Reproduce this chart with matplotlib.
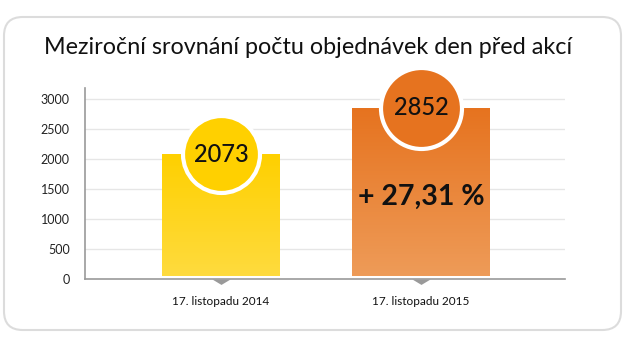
import numpy as np
import matplotlib
matplotlib.use("Agg")
import matplotlib.pyplot as plt
from matplotlib.patches import FancyBboxPatch
from matplotlib.colors import LinearSegmentedColormap

plt.rcParams['font.family'] = ['Lato', 'DejaVu Sans']

# data
kategorie = ['17. listopadu 2014', '17. listopadu 2015']
objednavky = [2073, 2852]
narust = '+ 27,31 %'
titulek = 'Meziroční srovnání počtu objednávek den před akcí'
yticks = [0, 500, 1000, 1500, 2000, 2500, 3000]

fig = plt.figure(figsize=(6.25, 3.5), dpi=100)
fig.patch.set_facecolor('white')

# karta se zaoblenymi rohy
karta = FancyBboxPatch((4 / 625, 1 - 330 / 350), 617 / 625, 313 / 350,
                       boxstyle='round,pad=0,rounding_size=0.03',
                       transform=fig.transFigure, facecolor='white',
                       edgecolor='#dcdcdc', linewidth=1.5, mutation_aspect=625 / 350,
                       zorder=-10)
fig.patches.append(karta)

fig.text(0.493, 1 - 47 / 350, titulek, ha='center', va='center', fontsize=16.8, color='#111111')

ax = fig.add_axes([85 / 625, 71 / 350, 480 / 625, (279 - 88) / 350])
ax.set_facecolor('none')
x = np.arange(len(kategorie))
sirky = [0.59, 0.69]
barvy_top = ['#ffd000', '#e6731f']
barvy_bot = ['#fedb3e', '#ee9b58']
spodek = 45

bars = ax.bar(x, np.array(objednavky) - spodek, bottom=spodek, width=sirky,
              color=barvy_top, zorder=2)
for b, c1, c2 in zip(bars, barvy_top, barvy_bot):
    cmap = LinearSegmentedColormap.from_list('g', [c2, c1])
    grad = np.linspace(0, 1, 100).reshape(-1, 1)
    im = ax.imshow(grad, cmap=cmap, aspect='auto', origin='lower', zorder=3,
                   extent=[b.get_x(), b.get_x() + b.get_width(), b.get_y(), b.get_y() + b.get_height()])
    im.set_clip_path(b)

# kruhy s hodnotami
velikosti = [3070, 3400]
for xi, v, c, s in zip(x, objednavky, barvy_top, velikosti):
    ax.scatter([xi], [v], s=s, color=c, edgecolor='white', linewidth=3, zorder=4, clip_on=False)
    ax.text(xi, v, str(v), ha='center', va='center', fontsize=17, fontweight='medium',
            color='#111111', zorder=5)

ax.text(x[1], 1370, narust, ha='center', va='center', fontsize=20.5, fontweight='bold',
        color='#111111', zorder=5)

# trojuhelniky pod osou
tri = [(-1, 0), (1, 0), (0, -0.6), (-1, 0)]
ax.scatter(x, [0, 0], marker=tri, s=170, color='#9a9a9a', zorder=5, clip_on=False, linewidth=0)

ax.set_xlim(-0.68, 1.72)
ax.set_ylim(0, 3180)
ax.set_yticks(yticks)
ax.set_yticklabels([str(t) for t in yticks], fontsize=9, color='#222222')
ax.set_xticks(x)
ax.set_xticklabels(kategorie, fontsize=8.5, color='#111111')
ax.tick_params(axis='both', length=0)
ax.tick_params(axis='y', pad=11)
ax.tick_params(axis='x', pad=12)
ax.grid(axis='y', color='#e6e6e6', linewidth=1, zorder=0)
ax.set_axisbelow(True)
for s in ['top', 'right']:
    ax.spines[s].set_visible(False)
for s in ['left', 'bottom']:
    ax.spines[s].set_color('#9a9a9a')
    ax.spines[s].set_linewidth(1.2)

fig.savefig('out.png', dpi=100)
